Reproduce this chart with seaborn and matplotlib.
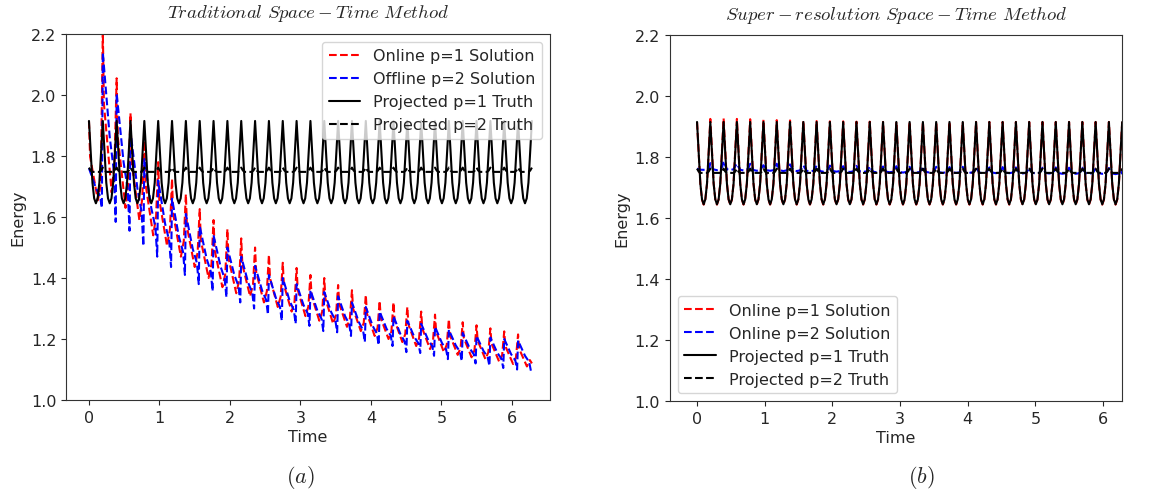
import numpy as np
import pandas as pd
import matplotlib
matplotlib.use("Agg")
import matplotlib.pyplot as plt
import seaborn as sns

sns.set_style("ticks")
plt.rcParams["font.family"] = ["DejaVu Sans"]
plt.rcParams["mathtext.fontset"] = "cm"

# ---------------------------------------------------------------------------
# Data: energy over one revolution (t in [0, 2*pi]), 32 oscillation cycles.
# Each cycle starts at a peak; per-cycle peak / trough levels are listed,
# together with the within-cycle profile (phase, fraction of peak-trough).
# ---------------------------------------------------------------------------
n_cycles = 32
t_end = 2 * np.pi

# Projected truth (periodic)
truth_p1_peak, truth_p1_trough = 1.915, 1.645
truth_p2_peak, truth_p2_trough = 1.762, 1.748
truth_phase = [0.0, 0.125, 0.25, 0.375, 0.5, 0.625, 0.75, 0.875]
truth_p1_shape = [1.0, 0.62, 0.25, 0.06, 0.0, 0.06, 0.25, 0.62]
truth_p2_shape = [1.0, 0.3, 0.0, 0.0, 0.0, 0.0, 0.0, 0.3]

# (a) traditional method
trad_p1_peaks = [1.915, 2.21, 2.055, 1.94, 1.85, 1.78, 1.725, 1.675, 1.626, 1.59,
                 1.56, 1.53, 1.50, 1.476, 1.45, 1.433, 1.41, 1.40, 1.377, 1.36,
                 1.344, 1.325, 1.32, 1.305, 1.29, 1.28, 1.265, 1.255, 1.245, 1.235,
                 1.225, 1.215]
trad_p1_troughs = [1.655, 1.68, 1.63, 1.59, 1.54, 1.505, 1.47, 1.436, 1.40, 1.37,
                   1.35, 1.34, 1.32, 1.305, 1.29, 1.275, 1.26, 1.25, 1.24, 1.226,
                   1.21, 1.20, 1.19, 1.177, 1.167, 1.157, 1.148, 1.14, 1.134, 1.125,
                   1.118, 1.11]
trad_p1_end = 1.12
trad_p1_phase = [0.0, 0.08, 0.64, 0.85]
trad_p1_shape = [1.0, 0.55, 0.0, 0.2]

trad_p2_peaks = [1.76, 2.14, 2.005, 1.88, 1.79, 1.72, 1.66, 1.61, 1.57, 1.54,
                 1.50, 1.47, 1.44, 1.41, 1.40, 1.38, 1.36, 1.354, 1.34, 1.32,
                 1.305, 1.29, 1.275, 1.26, 1.25, 1.24, 1.23, 1.22, 1.21, 1.205,
                 1.20, 1.195]
trad_p2_troughs = [1.63, 1.584, 1.555, 1.505, 1.47, 1.436, 1.41, 1.38, 1.357, 1.337,
                   1.32, 1.30, 1.28, 1.26, 1.25, 1.243, 1.226, 1.222, 1.21, 1.19,
                   1.18, 1.177, 1.157, 1.154, 1.145, 1.134, 1.128, 1.12, 1.112, 1.105,
                   1.10, 1.095]
trad_p2_end = 1.09
trad_p2_phase = [0.0, 0.5, 0.8, 0.93]
trad_p2_shape = [1.0, 0.5, 0.3, 0.0]

# (b) super-resolution method
sr_p1_peaks = [1.915, 1.925, 1.927, 1.925, 1.924, 1.922, 1.921, 1.920, 1.919, 1.918,
               1.917, 1.917, 1.916, 1.916, 1.915, 1.915, 1.915, 1.915, 1.915, 1.915,
               1.915, 1.915, 1.915, 1.915, 1.915, 1.915, 1.915, 1.915, 1.915, 1.915,
               1.915, 1.915]
sr_p1_trough = 1.644
sr_p1_end = 1.915

sr_p2_peaks = [1.762, 1.78, 1.787, 1.778, 1.778, 1.773, 1.778, 1.776, 1.773, 1.773,
               1.772, 1.770, 1.771, 1.770, 1.769, 1.770, 1.768, 1.769, 1.768, 1.767,
               1.768, 1.767, 1.766, 1.767, 1.766, 1.766, 1.765, 1.766, 1.765, 1.765,
               1.764, 1.764]
sr_p2_troughs = [1.758, 1.757, 1.757, 1.756, 1.755, 1.755, 1.754, 1.754, 1.753, 1.752,
                 1.752, 1.751, 1.751, 1.750, 1.750, 1.749, 1.749, 1.749, 1.748, 1.748,
                 1.748, 1.747, 1.747, 1.747, 1.746, 1.746, 1.746, 1.745, 1.745, 1.745,
                 1.745, 1.744]
sr_p2_end = 1.744
sr_p2_phase = [0.0, 0.1, 0.25, 0.5, 0.75, 0.9]
sr_p2_shape = [1.0, 0.6, 0.1, 0.0, 0.1, 0.5]


def series(peaks, troughs, phase, shape, end):
    """Expand per-cycle peak/trough levels into (time, energy) samples."""
    period = t_end / n_cycles
    peaks = np.broadcast_to(peaks, n_cycles)
    troughs = np.broadcast_to(troughs, n_cycles)
    t, e = [], []
    for k in range(n_cycles):
        for ph, f in zip(phase, shape):
            t.append((k + ph) * period)
            e.append(troughs[k] + f * (peaks[k] - troughs[k]))
    t.append(t_end)
    e.append(end)
    return pd.DataFrame({"Time": t, "Energy": e})


truth_p1 = series(truth_p1_peak, truth_p1_trough, truth_phase, truth_p1_shape, truth_p1_peak)
truth_p2 = series(truth_p2_peak, truth_p2_trough, truth_phase, truth_p2_shape, truth_p2_peak)
trad_p1 = series(trad_p1_peaks, trad_p1_troughs, trad_p1_phase, trad_p1_shape, trad_p1_end)
trad_p2 = series(trad_p2_peaks, trad_p2_troughs, trad_p2_phase, trad_p2_shape, trad_p2_end)
sr_p1 = series(sr_p1_peaks, sr_p1_trough, truth_phase, truth_p1_shape, sr_p1_end)
sr_p2 = series(sr_p2_peaks, sr_p2_troughs, sr_p2_phase, sr_p2_shape, sr_p2_end)

fig = plt.figure(figsize=(11.68, 5.02), dpi=100)
ax_a = fig.add_axes([0.0565, 0.2012, 0.4144, 0.729])
ax_b = fig.add_axes([0.5736, 0.1992, 0.387, 0.729])

lw = 1.5
fs = 11.5
panels = [
    (ax_a, trad_p1, trad_p2, "Offline p=2 Solution",
     r"$Traditional\ Space-Time\ Method$", "upper right", (-0.326, 6.54), 12.5),
    (ax_b, sr_p1, sr_p2, "Online p=2 Solution",
     r"$Super-resolution\ Space-Time\ Method$", "lower left", (-0.40, 6.28), 11.5),
]
for ax, s1, s2, lab2, title, loc, xlim, tpad in panels:
    sns.lineplot(data=s1, x="Time", y="Energy", ax=ax, color="red", lw=lw,
                 linestyle="--", label="Online p=1 Solution", estimator=None, sort=False)
    sns.lineplot(data=s2, x="Time", y="Energy", ax=ax, color="blue", lw=lw,
                 linestyle="--", label=lab2, estimator=None, sort=False)
    sns.lineplot(data=truth_p1, x="Time", y="Energy", ax=ax, color="black", lw=lw,
                 linestyle="-", label="Projected p=1 Truth", estimator=None, sort=False)
    sns.lineplot(data=truth_p2, x="Time", y="Energy", ax=ax, color="black", lw=lw,
                 linestyle="--", label="Projected p=2 Truth", estimator=None, sort=False)
    ax.set_ylim(1.0, 2.2)
    ax.set_xlim(*xlim)
    ax.set_yticks([1.0, 1.2, 1.4, 1.6, 1.8, 2.0, 2.2])
    ax.set_xticks(range(7))
    ax.tick_params(labelsize=fs)
    ax.set_xlabel("Time", fontsize=fs, labelpad=3)
    ax.set_ylabel("Energy", fontsize=fs)
    ax.set_title(title, fontsize=13.5, pad=tpad)
    ax.legend(loc=loc, fontsize=fs, handlelength=2.0)
    for sp in ax.spines.values():
        sp.set_visible(True)
        sp.set_color("#333333")

fig.text(0.257, 0.048, r"$(a)$", fontsize=16, ha="center", va="center")
fig.text(0.789, 0.048, r"$(b)$", fontsize=16, ha="center", va="center")

fig.savefig("out.png", dpi=100)
